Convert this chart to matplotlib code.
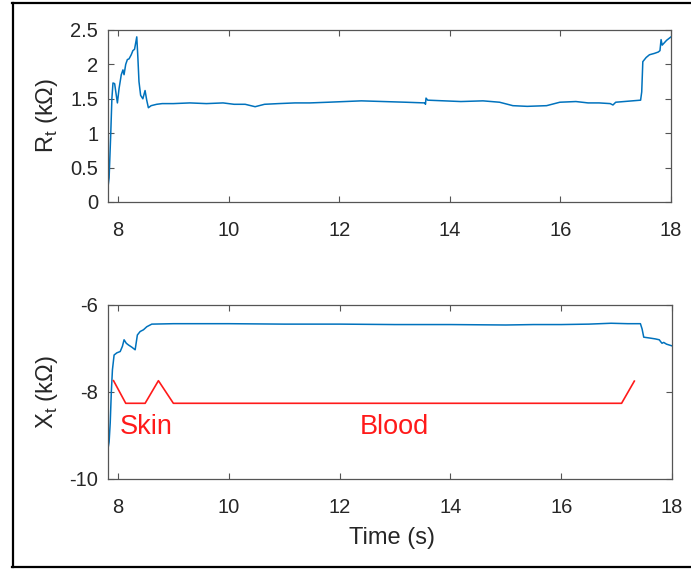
import numpy as np
import matplotlib
matplotlib.use('Agg')
import matplotlib.pyplot as plt
from matplotlib.lines import Line2D

plt.rcParams['font.family'] = ['Liberation Sans', 'DejaVu Sans']
plt.rcParams['mathtext.fontset'] = 'custom'
plt.rcParams['mathtext.rm'] = 'Liberation Sans'
plt.rcParams['axes.unicode_minus'] = False

# resistance trace, R_t (kOhm)
tR = [7.82, 7.84, 7.87, 7.89, 7.91, 7.94, 7.97, 7.99, 8.02, 8.06, 8.09, 8.11,
      8.14, 8.17, 8.20, 8.24, 8.27, 8.30, 8.34, 8.36, 8.38, 8.41, 8.45, 8.49,
      8.52, 8.55, 8.60, 8.70, 8.80, 9.0, 9.3, 9.6, 9.9, 10.1, 10.3, 10.48,
      10.65, 10.9, 11.2, 11.47, 11.8, 12.1, 12.4, 12.8, 13.2, 13.55, 13.56,
      13.57, 13.6, 13.9, 14.2, 14.6, 14.9, 15.14, 15.4, 15.75, 15.99, 16.28,
      16.5, 16.7, 16.9, 16.95, 17.0, 17.15, 17.3, 17.45, 17.47, 17.49, 17.55,
      17.61, 17.7, 17.77, 17.80, 17.82, 17.84, 17.92, 18.0]
R = [0.22, 0.35, 1.0, 1.5, 1.73, 1.72, 1.55, 1.44, 1.65, 1.85, 1.92, 1.85,
     2.0, 2.07, 2.08, 2.14, 2.20, 2.22, 2.40, 2.1, 1.75, 1.55, 1.50, 1.62,
     1.48, 1.37, 1.40, 1.42, 1.43, 1.43, 1.44, 1.43, 1.44, 1.42, 1.42, 1.385,
     1.42, 1.43, 1.44, 1.44, 1.45, 1.46, 1.47, 1.46, 1.45, 1.44, 1.42,
     1.51, 1.48, 1.47, 1.46, 1.47, 1.45, 1.40, 1.39, 1.40, 1.45, 1.46,
     1.44, 1.44, 1.43, 1.41, 1.45, 1.46, 1.47, 1.48, 1.6, 2.04, 2.1,
     2.14, 2.16, 2.18, 2.20, 2.36, 2.28, 2.35, 2.40]

# reactance trace, X_t (kOhm)
tX = [7.82, 7.84, 7.86, 7.88, 7.90, 7.93, 7.98, 8.04, 8.08, 8.11, 8.15, 8.19,
      8.25, 8.31, 8.35, 8.40, 8.46, 8.52, 8.61, 9.0, 10.0, 11.0, 12.0, 13.0,
      14.0, 15.0, 15.5, 16.0, 16.5, 16.9, 17.2, 17.43, 17.46, 17.49, 17.6,
      17.7, 17.77, 17.8, 17.82, 17.85, 17.9, 18.0]
X = [-9.30, -9.15, -8.71, -8.0, -7.49, -7.15, -7.10, -7.07, -6.95, -6.80,
     -6.88, -6.92, -6.97, -7.03, -6.69, -6.61, -6.57, -6.50, -6.44, -6.43,
     -6.43, -6.44, -6.44, -6.45, -6.45, -6.46, -6.45, -6.45, -6.44, -6.42,
     -6.43, -6.43, -6.55, -6.74, -6.76, -6.78, -6.80, -6.85, -6.88, -6.86,
     -6.90, -6.94]

# tissue marker
t_tissue = [7.92, 8.14, 8.49, 8.73, 9.0, 17.09, 17.32]
y_tissue = [-7.74, -8.26, -8.26, -7.74, -8.26, -8.26, -7.75]

blue = '#0072BD'
axcol = '#262626'

fig = plt.figure(figsize=(6.91, 5.69), dpi=100)
ax1 = fig.add_axes([0.1563, 0.645, 0.8148, 0.3023])
ax2 = fig.add_axes([0.1563, 0.1582, 0.8162, 0.3058])

ax1.plot(tR, R, color=blue, lw=1.1)
ax2.plot(tX, X, color=blue, lw=1.1)
ax2.plot(t_tissue, y_tissue, color='#ff1a1a', lw=1.2)
ax2.text(8.03, -8.8, 'Skin', color='#ff1a1a', fontsize=19.5, va='center', ha='left')
ax2.text(12.36, -8.8, 'Blood', color='#ff1a1a', fontsize=19.5, va='center', ha='left')

ax1.set_ylim(0, 2.5)
ax1.set_yticks([0, 0.5, 1, 1.5, 2, 2.5])
ax1.set_yticklabels(['0', '0.5', '1', '1.5', '2', '2.5'])
ax2.set_ylim(-10, -6)
ax2.set_yticks([-10, -8, -6])

for ax in (ax1, ax2):
    ax.set_xlim(7.82, 18)
    ax.set_xticks([8, 10, 12, 14, 16, 18])
    for s in ax.spines.values():
        s.set_color('#555555')
        s.set_linewidth(0.9)
    ax.tick_params(axis='both', direction='in', length=4, width=0.8,
                   color='#555555', labelcolor=axcol, labelsize=14.5,
                   top=True, right=True)
    ax.tick_params(axis='x', pad=13.5)
    ax.tick_params(axis='y', pad=7)

ax1.set_ylabel('R$_\\mathregular{t}$ (kΩ)', fontsize=17, color=axcol)
ax1.yaxis.set_label_coords(-0.085, 0.5)
ax2.set_ylabel('X$_\\mathregular{t}$ (kΩ)', fontsize=17, color=axcol)
ax2.yaxis.set_label_coords(-0.085, 0.5)
ax2.set_xlabel('Time (s)', fontsize=17, color=axcol)
ax2.xaxis.set_label_coords(0.503, -0.275)

# black frame on left, top and bottom
W, H = 691, 569
fig.add_artist(Line2D([13 / W, 13 / W], [1 - 3 / H, 1 - 566.5 / H], color='black', lw=1.6))
fig.add_artist(Line2D([12 / W, 1.0], [1 - 3 / H, 1 - 3 / H], color='black', lw=1.6))
fig.add_artist(Line2D([12 / W, 1.0], [1 - 566.5 / H, 1 - 566.5 / H], color='black', lw=1.6))

fig.savefig('out.png', dpi=100)
